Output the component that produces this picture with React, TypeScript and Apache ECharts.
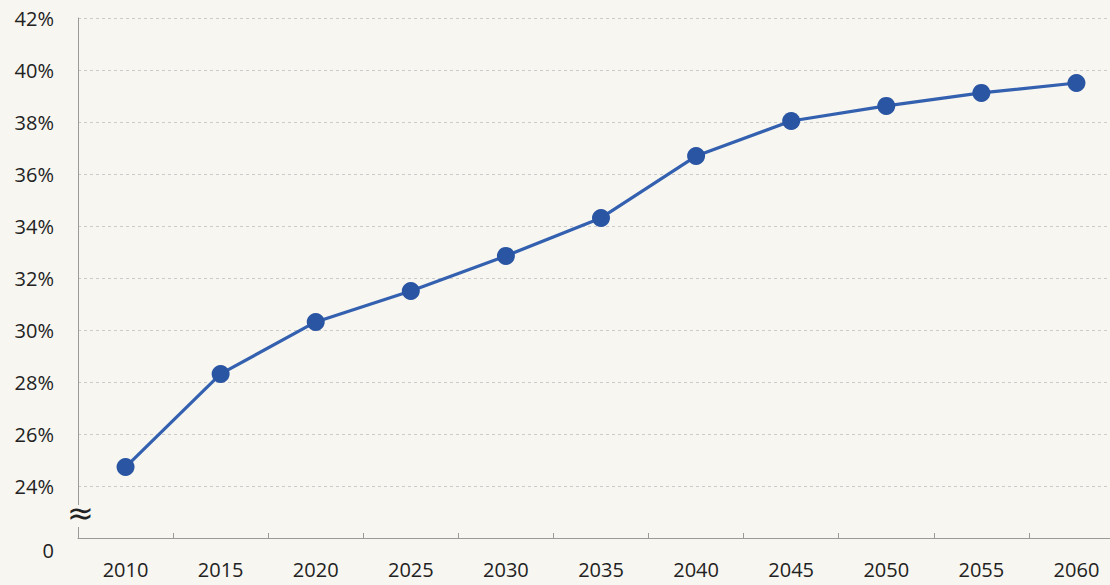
import React, { useEffect, useRef } from "react";
import * as echarts from "echarts";

const years = ["2010", "2015", "2020", "2025", "2030", "2035", "2040", "2045", "2050", "2055", "2060"];
const ratio = [24.73, 28.31, 30.31, 31.5, 32.85, 34.31, 36.69, 38.04, 38.62, 39.12, 39.5];
const yMin = 22;
const yMax = 42;
const yStep = 2;

export default function App() {
  const ref = useRef<HTMLDivElement>(null);
  useEffect(() => {
    if (!ref.current) return;
    const chart = echarts.init(ref.current, null, { renderer: "svg" });
    const font = "'Open Sans', Lato, sans-serif";
    chart.setOption({
      animation: false,
      backgroundColor: "#f7f6f0",
      grid: {
        left: 78,
        right: -14,
        top: 18,
        bottom: 47,
        containLabel: false,
        outerBoundsMode: "none",
      },
      xAxis: {
        type: "category",
        data: years,
        boundaryGap: true,
        axisLine: { show: true, lineStyle: { color: "#9a9a9a", width: 1 } },
        axisTick: { show: true, inside: true, length: 5, lineStyle: { color: "#9a9a9a" } },
        axisLabel: { color: "#222", fontSize: 20, fontFamily: font, margin: 21 },
        splitLine: { show: false },
      },
      yAxis: {
        type: "value",
        min: yMin,
        max: yMax,
        interval: yStep,
        axisLine: { show: true, lineStyle: { color: "#9a9a9a", width: 1 } },
        axisTick: { show: false },
        axisLabel: {
          color: "#222",
          fontSize: 20,
          fontFamily: font,
          margin: 24,
          formatter: (v: number) => (v === yMin ? "{z|0}" : v + "%"),
          rich: {
            z: { fontSize: 20, fontFamily: font, color: "#222", padding: [24, 0, 0, 0] },
          },
        },
        splitLine: { show: true, lineStyle: { color: "#cbcbcb", type: [3, 3], width: 1 } },
      },
      graphic: [
        {
          type: "rect",
          left: 70,
          top: 505,
          shape: { width: 18, height: 22 },
          style: { fill: "#f7f6f0" },
          z: 100,
        },
        {
          type: "text",
          left: 67,
          top: 497,
          style: { text: "≈", fontSize: 32, fontFamily: "'DejaVu Sans', sans-serif", fill: "#222" },
          z: 101,
        },
      ],
      series: [
        {
          type: "line",
          data: ratio,
          symbol: "circle",
          symbolSize: 18,
          lineStyle: { color: "#3460b0", width: 3.2 },
          itemStyle: { color: "#2a55a3" },
          z: 5,
        },
      ],
    });
    return () => chart.dispose();
  }, []);
  return <div ref={ref} style={{ position: "absolute", left: 0, top: 0, width: 1110, height: 585 }} />;
}
